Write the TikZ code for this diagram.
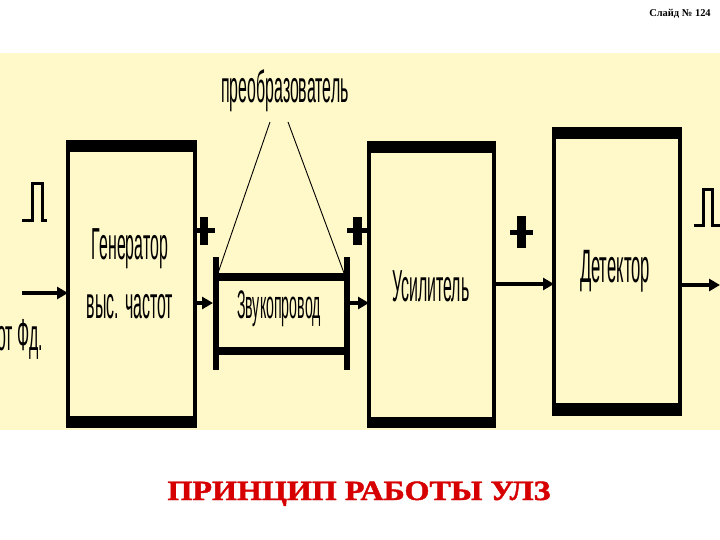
\documentclass[tikz,border=0pt]{standalone}
\usepackage{fontspec}
\setmainfont{Liberation Serif}
\newfontfamily\narrow[FakeStretch=0.355]{Liberation Sans}
\newfontfamily\widetitle[FakeStretch=1.15, FakeBold=1.5]{Liberation Serif Bold}
\usetikzlibrary{arrows.meta}
\definecolor{panel}{RGB}{255,248,200}
\definecolor{titlered}{RGB}{215,0,0}
\begin{document}
\begin{tikzpicture}[x=1bp,y=-1bp,
  blk/.style={draw, line width=4bp, inner sep=0pt, outer sep=0pt, fill=panel},
  conn/.style={line width=3.5bp, -{Triangle[length=11bp,width=12bp]}},
  thinln/.style={line width=0.9bp},
  lbl/.style={font=\narrow\fontsize{45}{50}\selectfont, anchor=base, inner sep=0pt},
  pulse/.style={line width=3bp, line join=miter}]
\useasboundingbox (0,0) rectangle (720,540);
\fill[white] (0,0) rectangle (720,540);
\fill[panel] (0,53) rectangle (720,430);

% slide number
\node[anchor=base, inner sep=0pt, font=\bfseries\fontsize{10.5}{12}\selectfont] (slide) at (680,17) {Слайд № 124};

% generator
\node[blk, minimum width=127bp, minimum height=284bp] (gen) at (131.5,284) {};
\fill ([shift={(-2,-2)}]gen.north west) rectangle ([shift={(2,10)}]gen.north east);
\fill ([shift={(-2,-10)}]gen.south west) rectangle ([shift={(2,2)}]gen.south east);
\node[lbl] (gen1) at (130,260) {Генератор};
\node[lbl] (gen2) at (130,318) {выс. частот};

% sound line
\node[minimum width=137bp, minimum height=82bp, inner sep=0pt, outer sep=0pt] (zv) at (281.5,314) {};
\draw[line width=5.5bp] ([xshift=2.75bp,yshift=16bp]zv.north west) -- ([xshift=2.75bp,yshift=-15bp]zv.south west);
\draw[line width=6bp] ([xshift=-3bp,yshift=16bp]zv.north east) -- ([xshift=-3bp,yshift=-15bp]zv.south east);
\draw[line width=8bp] ([yshift=-4bp]zv.north west) -- ([yshift=-4bp]zv.north east);
\draw[line width=8bp] ([yshift=4bp]zv.south west) -- ([yshift=4bp]zv.south east);
\node[lbl, font=\narrow\fontsize{40}{44}\selectfont] (zvt) at (279,318) {Звукопровод};

% amplifier
\node[blk, minimum width=125bp, minimum height=283bp] (amp) at (431.5,284.5) {};
\fill ([shift={(-2,-2)}]amp.north west) rectangle ([shift={(2,10)}]amp.north east);
\fill ([shift={(-2,-9)}]amp.south west) rectangle ([shift={(2,2)}]amp.south east);
\node[lbl] (ampt) at (431,301) {Усилитель};

% detector
\node[blk, minimum width=126bp, minimum height=285bp] (det) at (617,271.5) {};
\fill ([shift={(-2,-2)}]det.north west) rectangle ([shift={(2,10)}]det.north east);
\fill ([shift={(-2,-11)}]det.south west) rectangle ([shift={(2,2)}]det.south east);
\node[lbl, font=\narrow\fontsize{47}{50}\selectfont] (dett) at (615,283) {Детектор};

% transducer label
\node[lbl] (preob) at (285,103) {преобразователь};
\coordinate (p1) at (270,122);
\coordinate (p2) at (288,122);
\draw[thinln] (p1) -- ([xshift=5bp]zv.north west);
\draw[thinln] (p2) -- ([xshift=-6bp]zv.north east);

% input
\coordinate (in) at (22,293);
\draw[conn] (in) -- (gen.west |- in);
\node[lbl, anchor=base west] (fd) at (-3,350) {от Фд.};
\draw[pulse] (22,221) -- (32,221) -- (32,184) -- (42,184) -- (42,221) -- (47,221);

% connectors
\draw[conn] (gen.east |- 0,303) -- (zv.west |- 0,303);
\draw[conn] (zv.east |- 0,303) -- (amp.west |- 0,303);
\draw[conn] (amp.east |- 0,284) -- (det.west |- 0,284);
\coordinate (out) at (720,285);
\draw[conn] (det.east |- out) -- (out);
\draw[pulse] (694,226) -- (703,226) -- (703,190) -- (712,190) -- (712,226) -- (720,226);

% plus signs
\fill (200,217) rectangle (208,245); \fill (195,228) rectangle (215,233);
\fill (353,217) rectangle (362,245); \fill (347,228) rectangle (367,233);
\fill (517,216) rectangle (526,248); \fill (510,230) rectangle (533,235);

% title
\node[anchor=base, inner sep=0pt, text=titlered, font=\widetitle\fontsize{28}{32}\selectfont] (title) at (359,500) {ПРИНЦИП РАБОТЫ УЛЗ};
\end{tikzpicture}
\end{document}
